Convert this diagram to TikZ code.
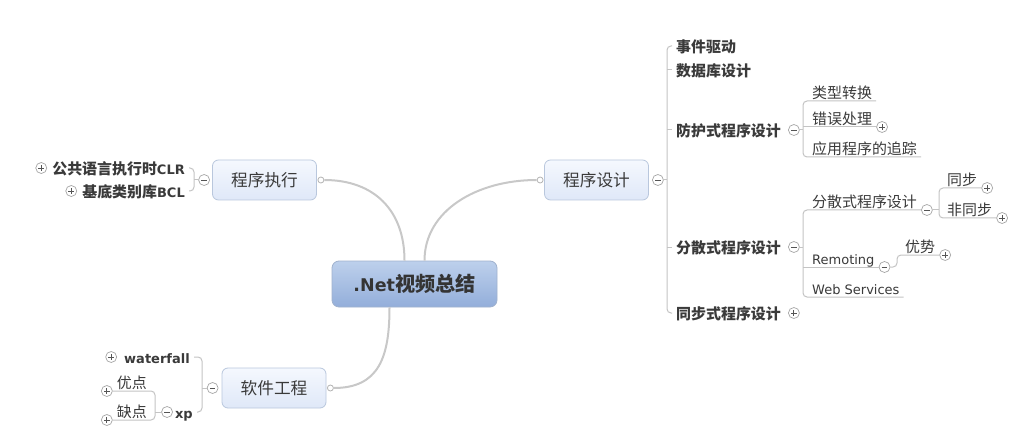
\documentclass[tikz,border=0pt]{standalone}
\usepackage{fontspec}
\setmainfont{DejaVu Sans}
\newfontfamily\cjk[Scale=1.15]{Noto Sans CJK SC}
\newcommand\zh[1]{{\cjk #1}}
\definecolor{linec}{HTML}{C8C8C8}
\definecolor{brc}{HTML}{C4C4C4}
\definecolor{mkc}{HTML}{A6A6A6}
\definecolor{signc}{HTML}{555555}
\definecolor{textc}{HTML}{3A3A3A}
\definecolor{boxtop}{HTML}{F5F8FE}
\definecolor{boxbot}{HTML}{DFE8F8}
\definecolor{boxline}{HTML}{B9C7DD}
\definecolor{roottop}{HTML}{BDD0EC}
\definecolor{rootbot}{HTML}{93AEDA}
\definecolor{rootline}{HTML}{A0B2CE}
\begin{document}
\begin{tikzpicture}[x=1pt,y=-1pt,
  rootbox/.style={draw=rootline, line width=0.8pt, top color=roottop, bottom color=rootbot, rounded corners=7pt, minimum width=165pt, minimum height=46pt, inner sep=0pt, text=textc!90!black, font=\fontsize{17.5}{20}\selectfont\bfseries},
  topbox/.style={draw=boxline, line width=0.8pt, top color=boxtop, bottom color=boxbot, rounded corners=6pt, minimum width=104pt, minimum height=40pt, inner sep=0pt, text=textc, font=\fontsize{14.5}{16}\selectfont},
  txt/.style={inner sep=0pt, inner xsep=4pt, text height=14pt, text depth=1pt, text=textc, font=\fontsize{13}{15}\selectfont},
  l1/.style={txt, font=\fontsize{13}{15}\selectfont\bfseries},
  ul/.style={txt, text height=11pt, text depth=2pt, inner ysep=0pt, anchor=south west},
  conn/.style={draw=linec, line width=2pt},
  branch/.style={draw=brc, line width=1pt},
  dot/.style={circle, draw=linec!90!black, fill=white, line width=0.8pt, inner sep=0pt, minimum size=6pt},
  mk/.style={circle, draw=mkc, fill=white, line width=0.7pt, inner sep=0pt, minimum size=11pt},
  mkminus/.style={mk, path picture={\draw[signc, line width=0.9pt] ([xshift=-2.8pt]path picture bounding box.center) -- ([xshift=2.8pt]path picture bounding box.center);}},
  mkplus/.style={mk, path picture={\draw[signc, line width=0.9pt] ([xshift=-2.8pt]path picture bounding box.center) -- ([xshift=2.8pt]path picture bounding box.center) ([yshift=-2.8pt]path picture bounding box.center) -- ([yshift=2.8pt]path picture bounding box.center);}}
]
\useasboundingbox[fill=white] (0,0) rectangle (1024,438);

% main nodes
\node[rootbox] (root) at (414.5,284) {.Net\zh{视频总结}};
\node[topbox] (A) at (264.5,180) {\zh{程序执行}};
\node[topbox] (B) at (596.5,180) {\zh{程序设计}};
\node[topbox] (C) at (274,388) {\zh{软件工程}};

\node[dot] (dA) at ([xshift=4pt]A.east) {};
\node[dot] (dB) at ([xshift=-4pt]B.west) {};
\node[dot] (dC) at ([xshift=4pt]C.east) {};

\draw[conn] ([xshift=-10pt]root.north) .. controls +(0,-50) and +(50,0) .. (dA.east);
\draw[conn] ([xshift=10pt]root.north) .. controls +(0,-50) and +(-60,0) .. (dB.west);
\draw[conn] ([xshift=-25pt]root.south) .. controls +(0,50) and +(45,0) .. (dC.east);

% ---- 程序执行 group
\node[mkminus] (m1) at ([xshift=-8pt]A.west) {};
\coordinate (v1) at (194,0);
\node[l1, anchor=east] (a1) at (189,168) {\zh{公共语言执行时}CLR};
\node[l1, anchor=east] (a2) at (189,191) {\zh{基底类别库}BCL};
\node[mkplus, anchor=east] (pa1) at ([xshift=-1pt]a1.west) {};
\node[mkplus, anchor=east] (pa2) at ([xshift=-1pt]a2.west) {};
\draw[branch] (m1.west) -- (m1.west -| v1);
\draw[branch, rounded corners=4pt] (a1.east) -- (a1.east -| v1) -- (a2.east -| v1) -- (a2.east);

% ---- 程序设计 group
\node[mkminus] (mB) at ([xshift=9pt]B.east) {};
\coordinate (v2) at (667,0);
\node[l1, anchor=west] (e1) at (672,46) {\zh{事件驱动}};
\node[l1, anchor=west] (e2) at (672,70) {\zh{数据库设计}};
\node[l1, anchor=west] (e3) at (672,130) {\zh{防护式程序设计}};
\node[l1, anchor=west] (e4) at (672,247) {\zh{分散式程序设计}};
\node[l1, anchor=west] (e5) at (672,313) {\zh{同步式程序设计}};
\draw[branch] (mB.east) -- (mB.east -| v2);
\draw[branch, rounded corners=4pt] (e1.west) -- (e1.west -| v2) -- (e5.west -| v2) -- (e5.west);
\draw[branch] (e2.west) -- (e2.west -| v2);
\draw[branch] (e3.west) -- (e3.west -| v2);
\draw[branch] (e4.west) -- (e4.west -| v2);
\node[mkminus, anchor=west] (m2) at ([xshift=3pt]e3.east) {};
\node[mkminus, anchor=west] (m3) at ([xshift=3pt]e4.east) {};
\node[mkplus, anchor=west] (p5) at ([xshift=3pt]e5.east) {};

% 防护式程序设计 children
\coordinate (v3) at (803,0);
\node[ul] (d1) at (808,101) {\zh{类型转换}};
\node[ul] (d2) at (808,127) {\zh{错误处理}};
\node[ul] (d3) at (808,157) {\zh{应用程序的追踪}};
\node[mkplus, anchor=west] (pd2) at (d2.south east) {};
\draw[branch] (m2.east) -- (m2.east -| v3);
\draw[branch, rounded corners=4pt] (d1.south east) -- (d1.south west -| v3) -- (d3.south west -| v3) -- (d3.south east);
\draw[branch] (d2.south east) -- (d2.south west -| v3);

% 分散式程序设计 children
\node[ul] (f1) at (808,210) {\zh{分散式程序设计}};
\node[ul] (f2) at (808,267) {Remoting};
\node[ul] (f3) at (808,297) {Web Services};
\node[mkminus, anchor=west] (m4) at (f1.south east) {};
\node[mkminus, anchor=west] (m5) at (f2.south east) {};
\draw[branch] (m3.east) -- (m3.east -| v3);
\draw[branch, rounded corners=4pt] (f1.south east) -- (f1.south west -| v3) -- (f3.south west -| v3) -- (f3.south east);
\draw[branch] (f2.south east) -- (f2.south west -| v3);

\coordinate (v4) at (939,0);
\node[ul] (g1) at (943,188) {\zh{同步}};
\node[ul] (g2) at (943,218) {\zh{非同步}};
\node[mkplus, anchor=west] (pg1) at (g1.south east) {};
\node[mkplus, anchor=west] (pg2) at (g2.south east) {};
\draw[branch] (m4.east) -- (m4.east -| v4);
\draw[branch, rounded corners=4pt] (g1.south east) -- (g1.south west -| v4) -- (g2.south west -| v4) -- (g2.south east);

\coordinate (v5) at (897,0);
\node[ul] (h1) at (901,255) {\zh{优势}};
\node[mkplus, anchor=west] (ph1) at (h1.south east) {};
\draw[branch, rounded corners=4pt] (m5.east) -- (m5.east -| v5) -- (h1.south west -| v5) -- (h1.south east);

% ---- 软件工程 group
\node[mkminus] (m6) at ([xshift=-9pt]C.west) {};
\coordinate (v6) at (202,0);
\node[l1, anchor=east] (w1) at (194,357) {waterfall};
\node[l1, anchor=east] (w2) at (197,412) {xp};
\node[mkplus, anchor=east] (pw1) at ([xshift=-3pt]w1.west) {};
\node[mkminus, anchor=east] (m7) at ([xshift=2pt]w2.west) {};
\draw[branch] (m6.west) -- (m6.west -| v6);
\draw[branch, rounded corners=4pt] (w1.east) -- (w1.east -| v6) -- (w2.east -| v6) -- (w2.east);

\coordinate (v7) at (155,0);
\node[ul, anchor=south east] (y1) at (151,391) {\zh{优点}};
\node[ul, anchor=south east] (y2) at (151,420) {\zh{缺点}};
\node[mkplus, anchor=east] (py1) at (y1.south west) {};
\node[mkplus, anchor=east] (py2) at (y2.south west) {};
\draw[branch] (m7.west) -- (m7.west -| v7);
\draw[branch, rounded corners=4pt] (y1.south west) -- (y1.south east -| v7) -- (y2.south east -| v7) -- (y2.south west);
\end{tikzpicture}
\end{document}
